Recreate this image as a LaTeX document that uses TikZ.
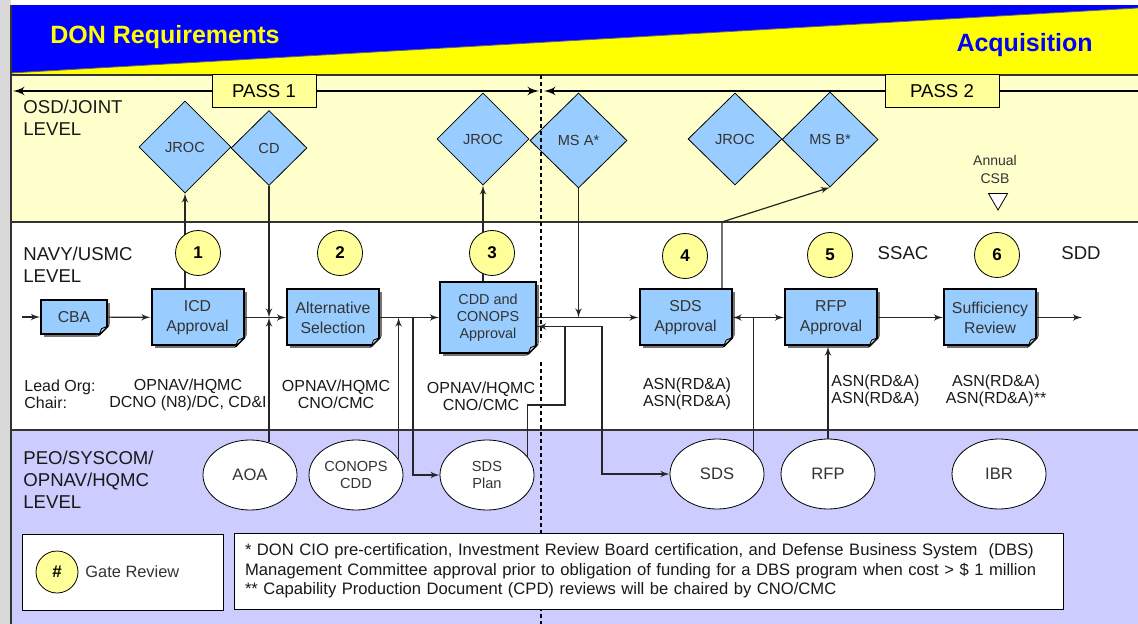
\documentclass[tikz,border=0pt]{standalone}
\usepackage{fontspec}
\setmainfont{Liberation Sans}
\usepackage{tikz}
\usetikzlibrary{shapes.geometric, arrows, calc, shadows}
\definecolor{donblue}{HTML}{0000FF}
\definecolor{donyellow}{HTML}{FFFF00}
\definecolor{osdfill}{HTML}{FFFFCC}
\definecolor{peofill}{HTML}{CCCCFF}
\definecolor{gatefill}{HTML}{FFFF99}
\definecolor{stagefill}{HTML}{99CCFF}
\definecolor{inkgray}{HTML}{333333}

\begin{document}
\begin{tikzpicture}[
    x=0.5pt, y=-0.5pt,
    tier/.style={anchor=west, align=left, inner sep=0pt, text=black!90, font=\fontsize{9.3}{11}\selectfont},
    pass/.style={rectangle, draw, fill=gatefill, minimum width=52pt, minimum height=16.5pt, font=\fontsize{9.3}{11}\selectfont},
    review/.style={diamond, draw, fill=stagefill, minimum width=46pt, minimum height=46pt, inner sep=0pt, text=inkgray, font=\fontsize{7.3}{8}\selectfont},
    gate/.style={circle, draw, fill=gatefill, minimum size=22.5pt, inner sep=0pt, font=\bfseries\fontsize{8.5}{9}\selectfont},
    stage/.style={rectangle, draw, line width=1pt, fill=stagefill, minimum width=46pt, minimum height=28pt, inner sep=1pt, align=center, text=inkgray, font=\fontsize{7.9}{10}\selectfont, drop shadow={shadow xshift=1.5pt, shadow yshift=-1.5pt, fill=black!55, opacity=1}},
    product/.style={ellipse, draw, fill=white, minimum width=47pt, minimum height=35pt, inner sep=0pt, align=center, text=inkgray, font=\fontsize{8.3}{9}\selectfont},
    org/.style={align=center, inner sep=0pt, text=black!90, font=\fontsize{8}{8.5}\selectfont},
    notebox/.style={rectangle, draw, fill=white, inner sep=0pt},
    arrow/.style={-latex', line width=0.6pt, black!85},
    passarrow/.style={-latex', line width=1pt}
]
    \useasboundingbox (0,0) rectangle (1138,624);
    \fill[black!15] (0,0) rectangle (11,624);
    \fill[donblue] (11,5) rectangle (1138,75);
    \fill[donyellow] (11,73) -- (1138,8) -- (1138,75) -- (11,75) -- cycle;
    \draw[black!60, line width=0.4pt] (11,73) -- (1138,8);
    \fill[osdfill] (11,75) rectangle (1138,222);
    \fill[peofill] (11,430) rectangle (1138,624);
    \draw[black!80, line width=0.6pt] (11,5) -- (11,624);
    \draw[black!80, line width=0.6pt] (11,75) -- (1138,75) (11,222) -- (1138,222) (11,430) -- (1138,430);

    \node[anchor=west, inner sep=0pt, text=donyellow, font=\bfseries\fontsize{12.5}{14}\selectfont] (donreq) at (50,37) {DON Requirements};
    \node[anchor=east, inner sep=0pt, text=donblue, font=\bfseries\fontsize{12.5}{14}\selectfont] (acq) at (1093,45) {Acquisition};

    \node[tier] (osd) at (23,117.5) {OSD/JOINT\\LEVEL};
    \node[tier] (navy) at (23,265) {NAVY/USMC\\LEVEL};
    \node[tier] (peo) at (23,480) {PEO/SYSCOM/\\OPNAV/HQMC\\LEVEL};

    \node[review] (jroc1) at (185,147) {JROC};
    \node[review, minimum width=38pt, minimum height=37.5pt] (cd) at (269,148) {CD};
    \node[review] (jroc2) at (483,139) {JROC};
    \node[review, minimum width=48.5pt, minimum height=47.5pt] (msa) at (578.5,140.5) {MS A*};
    \node[review, minimum width=47pt] (jroc3) at (735,139) {JROC};
    \node[review, minimum width=48pt, minimum height=47.5pt] (msb) at (830,139.5) {MS B*};

    \draw[dash pattern=on 2pt off 1.5pt, line width=0.6pt] (541,75) -- (541,624);

    \node[pass] (pass1) at (264,91) {PASS 1};
    \node[pass, minimum width=57pt] (pass2) at (942,91) {PASS 2};

    \node[text=inkgray, align=center, inner sep=0pt, font=\fontsize{7}{9}\selectfont] (csb) at (995,170) {Annual\\CSB};
    \node[regular polygon, regular polygon sides=3, shape border rotate=180, draw, fill=white, minimum size=11pt, inner sep=0pt] (csbmark) at (998,199) {};

    \node[stage, minimum width=33pt, minimum height=17pt] (cba) at (74,317) {CBA};
    \node[stage] (icd) at (197.5,317.5) {ICD\\Approval};
    \node[stage] (alt) at (333,317.5) {Alternative\\Selection};
    \node[stage, minimum width=48pt, minimum height=35.5pt, font=\fontsize{7.2}{8.5}\selectfont] (cdd) at (488,317.5) {CDD and\\CONOPS\\Approval};
    \node[stage] (sdsa) at (685.5,317.5) {SDS\\Approval};
    \node[stage] (rfpa) at (831,317.5) {RFP\\Approval};
    \node[stage] (suff) at (990,317.5) {Sufficiency\\Review};

    \foreach \b in {cba,icd,alt,cdd,sdsa,rfpa,suff}{
        \fill[white] ([shift={(-7pt,-2.5pt)}]\b.south east) -- ([shift={(2.5pt,-2.5pt)}]\b.south east) -- ([shift={(2.5pt,7pt)}]\b.south east) -- cycle;
        \draw[line width=1pt] ([xshift=-4.5pt]\b.south east) -- ([yshift=4.5pt]\b.south east);
        \filldraw[fill=black!20, line width=0.4pt] ([xshift=-4.5pt]\b.south east) -- ([yshift=4.5pt]\b.south east) -- ([shift={(-3.2pt,3.2pt)}]\b.south east) -- cycle;
    }

    \node[product] (aoa) at (250,475) {AOA};
    \node[product, font=\fontsize{7.3}{8.5}\selectfont] (conops) at (356,475) {CONOPS\\CDD};
    \node[product, font=\fontsize{7.3}{8.5}\selectfont] (sdsplan) at (487,475) {SDS\\Plan};
    \node[product] (sds) at (717,474) {SDS};
    \node[product] (rfp) at (828,474) {RFP};
    \node[product] (ibr) at (999,474) {IBR};

    \node[org, align=left, anchor=west] (leadorg) at (24,394.5) {Lead Org:\\Chair:};
    \node[org] (org1) at (188,394.5) {OPNAV/HQMC\\DCNO (N8)/DC, CD\&I};
    \node[org] (org2) at (336,394.5) {OPNAV/HQMC\\CNO/CMC};
    \node[org] (org3) at (481,396) {OPNAV/HQMC\\CNO/CMC};
    \node[org] (org4) at (687,393.5) {ASN(RD\&A)\\ASN(RD\&A)};
    \node[org, align=left, anchor=west] (org5) at (831,391) {ASN(RD\&A)\\ASN(RD\&A)};
    \node[org] (org6) at (996,391) {ASN(RD\&A)\\ASN(RD\&A)**};

    \coordinate (flowin) at (22,317);
    \coordinate (flowout) at (1082,317.5);
    \coordinate (cdjoin) at (269,317.5);
    \coordinate (plansplit) at (413,317.5);
    \coordinate (sdsdrop) at (602,400);
    \coordinate (planrise) at (565,405);
    \coordinate (msbbend) at (722,222);
    \coordinate (p1west) at (13,91);
    \coordinate (p1east) at (539,91);
    \coordinate (p2west) at (544,91);
    \coordinate (p2east) at (1138,91);

    \draw [passarrow] (pass1) -- (p1west);
    \draw [passarrow] (pass1) -- (p1east);
    \draw [passarrow] (pass2) -- (p2west);
    \draw [line width=1pt] (pass2) -- (p2east);

    \draw [arrow] (flowin) -- (cba);
    \draw [arrow] (cba) -- (icd);
    \draw [arrow] (icd) -- (cdjoin) -- (alt);
    \draw [arrow] (cd) -- (cdjoin);
    \draw [arrow] (cdjoin |- aoa.61) -- (cdjoin);
    \draw [arrow] (icd.north -| jroc1) -- (jroc1);
    \draw [arrow] (alt) -- (cdd);
    \draw [arrow] (conops.20) -- (conops.20 |- alt.east);
    \draw [arrow] (plansplit) |- (sdsplan);
    \draw [arrow] (cdd.north -| jroc2) -- (jroc2);
    \draw [arrow] (cdd) -- (sdsa);
    \draw [arrow] (msa) -- (msa |- cdd.east);
    \draw [arrow] ([yshift=-4.5pt]cdd.east) -| (sdsdrop) |- (sds);
    \draw [arrow] (sdsplan.24) |- (planrise) |- ([yshift=-4.5pt]cdd.east);
    \draw [arrow] (sdsa.north -| msbbend) -- (msbbend) -- (msb.south);
    \draw [latex'-latex', line width=0.6pt, black!85] (sdsa) -- (rfpa);
    \draw [line width=0.6pt, black!85] (sds.32) -- (sds.32 |- sdsa.east);
    \draw [arrow] (rfp) -- (rfp |- rfpa.south);
    \draw [arrow] (rfpa) -- (suff);
    \draw [arrow] (suff) -- (flowout);

    \node[gate] (g1) at (198,253) {1};
    \node[gate] (g2) at (340,253) {2};
    \node[gate] (g3) at (492,253) {3};
    \node[gate] (g4) at (685,256) {4};
    \node[gate] (g5) at (830,255) {5};
    \node[gate] (g6) at (997,255) {6};
    \node[tier, anchor=center] (ssac) at (903,253) {SSAC};
    \node[tier, anchor=center] (sdd) at (1081,253) {SDD};

    \node[notebox, minimum width=100.5pt, minimum height=38pt] (legend) at (122.5,572) {};
    \node[gate, minimum size=21pt] (gatekey) at (57,572) {\#};
    \node[anchor=west, inner sep=0pt, text=inkgray, font=\fontsize{8.2}{9}\selectfont] (gatetxt) at (85,572) {Gate Review};
    \node[notebox, text width=403.5pt, align=left, inner xsep=5.5pt, minimum height=38pt, text=black!90, font=\fontsize{8.3}{9.75}\selectfont] (notes) at (648.5,571) {* DON CIO pre-certification, Investment Review Board certification, and Defense Business System\ \ (DBS)\\Management Committee approval prior to obligation of funding for a DBS program when cost > \$ 1 million\\{}** Capability Production Document (CPD) reviews will be chaired by CNO/CMC};
\end{tikzpicture}
\end{document}
